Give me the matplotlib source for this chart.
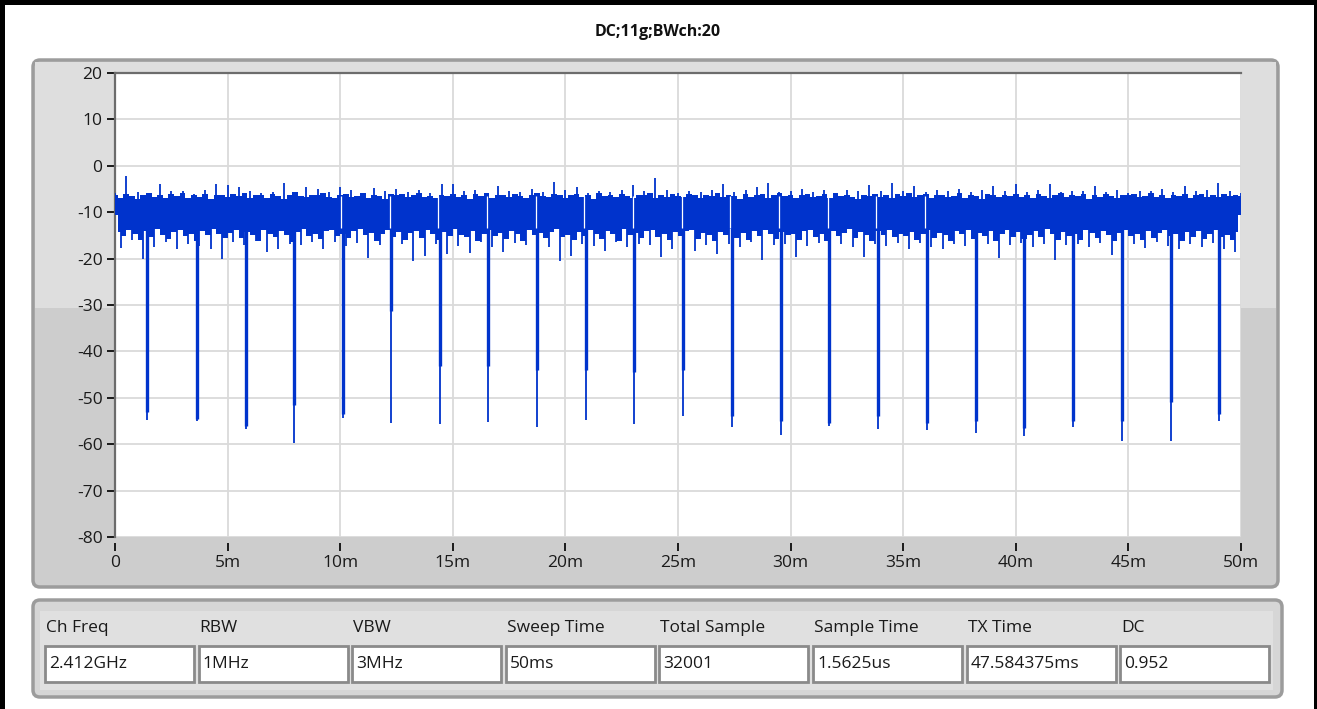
import numpy as np
import matplotlib.pyplot as plt
from matplotlib.patches import FancyBboxPatch, Rectangle

plt.rcParams['font.family'] = ['Open Sans', 'DejaVu Sans']
plt.rcParams['axes.unicode_minus'] = False

# ---- data ----
title = 'DC;11g;BWch:20'

# ragged edges of the noise band (dB), every 0.25 ms
edge_hi_ms = np.arange(0, 50.01, 0.25)
edge_hi = [-6.2, -6.9, -6.0, -6.6, -7.1, -6.3, -5.9, -6.8, -6.4, -7.0, -6.1, -6.5, -5.8, -6.9, -6.3, -6.7, -6.0, -7.2, -6.4, -6.2,
           -6.8, -6.1, -6.6, -5.9, -7.0, -6.4, -6.2, -6.9, -6.0, -6.5, -7.1, -6.3, -5.7, -6.6, -6.8, -6.2, -6.4, -5.9, -6.7, -7.0,
           -6.3, -6.0, -6.8, -6.5, -5.8, -6.9, -6.2, -6.6, -7.2, -6.1, -6.4, -6.0, -6.8, -6.3, -5.9, -6.7, -6.5, -7.0, -6.2, -6.6,
           -6.0, -6.7, -6.3, -7.1, -6.1, -6.5, -5.8, -6.9, -6.4, -6.2, -6.8, -6.0, -6.6, -7.0, -6.3, -5.9, -6.5, -6.8, -6.1, -6.4,
           -6.9, -6.2, -6.0, -6.7, -6.4, -7.1, -5.9, -6.5, -6.3, -6.8, -6.1, -6.6, -7.0, -6.2, -6.4, -5.8, -6.9, -6.3, -6.7, -6.0,
           -6.5, -6.8, -6.1, -6.4, -7.0, -6.2, -6.6, -5.9, -6.8, -6.3, -6.5, -7.2, -6.0, -6.7, -6.4, -6.1, -6.9, -6.3, -5.8, -6.6,
           -6.2, -7.0, -6.4, -6.0, -6.7, -6.5, -6.1, -6.9, -5.9, -6.6, -6.3, -6.8, -7.1, -6.2, -6.5, -6.0, -6.7, -6.4, -6.9, -6.1,
           -6.6, -5.9, -6.8, -6.3, -6.1, -7.0, -6.4, -6.2, -6.7, -6.5, -5.8, -6.9, -6.3, -6.6, -7.1, -6.0, -6.4, -6.8, -6.2, -6.5,
           -6.0, -6.7, -6.3, -6.9, -6.1, -6.5, -7.0, -6.2, -5.9, -6.8, -6.4, -6.6, -6.1, -7.2, -6.3, -6.7, -6.0, -6.5, -6.9, -6.2,
           -6.4, -6.1, -6.8, -6.5, -5.9, -6.7, -6.3, -7.0, -6.2, -6.6, -6.0, -6.9, -6.4, -6.1, -6.7, -6.3, -6.8, -6.0, -6.5, -6.2,
           -6.6]
edge_lo_ms = np.arange(0.125, 50, 0.25)
edge_lo = [-14.2, -15.1, -13.8, -14.6, -16.0, -14.0, -15.4, -13.6, -14.9, -15.7, -14.3, -13.9, -15.2, -14.7, -16.3, -14.1, -15.0, -13.7, -14.8, -15.5,
           -14.4, -13.8, -15.6, -14.2, -15.0, -16.1, -13.9, -14.7, -15.3, -14.0, -14.9, -16.4, -14.3, -13.7, -15.1, -14.6, -15.8, -14.1, -13.9, -15.2,
           -14.8, -15.5, -14.0, -13.6, -15.0, -14.4, -16.2, -14.7, -13.8, -15.3, -14.2, -15.9, -14.5, -14.0, -15.6, -13.9, -14.8, -16.0, -14.3, -15.1,
           -13.7, -14.9, -15.4, -14.1, -16.3, -14.6, -13.9, -15.2, -14.4, -15.7, -14.0, -14.8, -16.1, -13.8, -15.0, -14.5, -15.5, -14.2, -13.6, -15.3,
           -14.9, -16.0, -14.3, -15.1, -13.9, -14.7, -15.8, -14.0, -14.6, -16.2, -13.7, -15.0, -14.4, -15.6, -14.1, -13.9, -15.4, -14.8, -16.0, -14.2,
           -15.2, -14.0, -13.8, -15.7, -14.5, -15.0, -16.3, -14.2, -14.9, -13.7, -15.5, -14.4, -16.0, -14.1, -15.1, -13.9, -14.7, -15.8, -14.3, -15.0,
           -14.6, -15.9, -14.1, -13.8, -15.3, -14.8, -16.1, -14.0, -15.2, -14.5, -13.7, -15.6, -14.3, -14.9, -16.2, -14.0, -15.0, -13.9, -15.4, -14.6,
           -15.1, -14.2, -16.0, -14.7, -13.9, -15.5, -14.4, -15.0, -16.3, -14.1, -14.8, -13.8, -15.7, -14.5, -15.2, -14.0, -16.1, -14.6, -13.9, -15.3,
           -14.3, -15.8, -14.9, -14.0, -15.4, -13.7, -14.6, -16.0, -14.2, -15.1, -14.8, -15.9, -13.9, -14.5, -15.6, -14.1, -15.0, -16.2, -14.4, -13.8,
           -15.2, -14.7, -16.0, -14.1, -15.5, -14.4, -13.9, -15.1, -14.8, -16.1, -14.2, -15.3, -14.0, -15.7, -14.6, -13.8, -15.4, -14.9, -15.9, -14.3]

# taller spikes sticking out of the band
top_ms = np.arange(0, 50.01, 0.5)
top_db = [-5.8, -2.3, -5.6, -6.0, -3.9, -5.5, -5.4, -6.0, -5.2, -4.0, -4.1, -4.5, -5.4,
          -5.8, -5.6, -3.6, -5.9, -4.6, -5.0, -5.7, -4.6, -5.2, -5.8, -4.8, -5.5, -5.0,
          -5.6, -5.2, -5.8, -4.0, -3.9, -5.5, -5.3, -5.8, -4.4, -5.4, -5.6, -5.0, -5.7,
          -3.5, -5.3, -4.6, -5.8, -5.4, -5.6, -5.2, -4.1, -5.5, -2.6, -5.3, -5.9, -5.4,
          -5.6, -5.2, -4.0, -5.6, -5.3, -4.5, -3.7, -5.7, -5.4, -5.0, -5.6, -5.3, -5.8,
          -5.2, -5.5, -4.1, -5.4, -3.6, -5.5, -4.4, -5.6, -5.2, -5.5, -5.0, -5.7, -5.3,
          -4.3, -5.5, -4.0, -5.6, -5.3, -4.0, -5.7, -5.4, -5.5, -4.3, -5.6, -5.2, -5.8,
          -5.4, -5.5, -5.0, -5.6, -4.3, -5.5, -5.3, -3.6, -5.4, -5.8]
bot_ms = np.arange(0.25, 50, 0.5)
bot_db = [-17.7, -16.0, -20.0, -17.5, -16.5, -18.0, -16.8, -17.2, -18.0, -20.0, -16.5, -17.0, -16.2,
          -18.5, -18.0, -16.8, -17.0, -16.5, -18.0, -16.4, -17.3, -16.6, -19.8, -17.0, -20.0, -16.8,
          -20.5, -19.5, -16.8, -19.0, -17.2, -18.8, -16.5, -17.5, -18.5, -16.6, -17.0, -16.8, -17.6,
          -20.5, -19.5, -16.9, -17.2, -18.3, -16.5, -17.4, -16.8, -17.0, -19.6, -18.0, -16.6, -18.3,
          -17.0, -19.0, -16.8, -17.4, -16.5, -20.3, -17.0, -16.8, -19.6, -17.2, -16.6, -17.8, -16.9,
          -17.5, -19.6, -16.8, -17.3, -16.6, -17.9, -16.7, -17.4, -18.0, -16.8, -17.2, -18.6, -16.9,
          -19.8, -17.0, -16.7, -17.6, -16.9, -20.3, -17.1, -16.8, -17.5, -16.6, -19.3, -17.2, -16.9,
          -17.7, -16.5, -17.3, -18.0, -16.8, -17.4, -16.7, -17.9, -18.5]

# the periodic gaps (off time) in the transmission
dip_ms = [1.42, 3.63, 5.80, 7.95, 10.11, 12.26, 14.43, 16.58, 18.75, 20.91, 23.05, 25.24,
          27.38, 29.56, 31.72, 33.87, 36.04, 38.23, 40.38, 42.53, 44.73, 46.89, 49.04]
dip_min = [-54.7, -55.1, -56.7, -59.8, -54.4, -55.4, -55.6, -55.2, -56.2, -54.7, -55.6, -54.0,
           -56.2, -58.0, -56.0, -56.7, -56.9, -57.6, -58.3, -56.3, -59.4, -59.4, -55.1]
dip_shoulder = [-53.0, -54.5, -56.0, -51.5, -53.5, -31.3, -43.2, -43.2, -44.0, -44.0, -44.5, -44.0,
                -54.0, -55.0, -55.5, -54.0, -55.5, -55.0, -56.5, -55.0, -55.0, -51.0, -53.5]
dip_gap = [False, False, False, False, True, True, True, True, True, True, True, True,
           True, True, True, True, True, False, False, False, False, False, False]

x_ticks = list(range(0, 51, 5))
x_labels = ['0'] + ['%dm' % v for v in x_ticks[1:]]
y_ticks = list(range(-80, 21, 10))

fields = ['Ch Freq', 'RBW', 'VBW', 'Sweep Time', 'Total Sample', 'Sample Time', 'TX Time', 'DC']
values = ['2.412GHz', '1MHz', '3MHz', '50ms', '32001', '1.5625us', '47.584375ms', '0.952']

# ---- figure ----
W, H = 1317, 709
fig = plt.figure(figsize=(W / 100, H / 100), dpi=100)
fig.patch.set_facecolor('white')

bg = fig.add_axes([0, 0, 1, 1], zorder=0)
bg.set_xlim(0, W)
bg.set_ylim(H, 0)
bg.axis('off')


def box(x0, y0, x1, y1, **kw):
    bg.add_patch(Rectangle((x0, y0), x1 - x0, y1 - y0, **kw))


# window border
box(0, 0, W, 5, fc='black', lw=0)
box(0, 0, 5, H, fc='black', lw=0)
box(1314, 0, W, H, fc='black', lw=0)

bg.text(658, 32, title, ha='center', va='center', fontsize=11.5, fontweight='bold', color='#111111')

# graph frame
bg.add_patch(FancyBboxPatch((33, 60), 1245, 527, boxstyle='round,pad=0,rounding_size=7',
                            fc='#cdcdcd', ec='#9c9c9c', lw=2.5))
box(35, 62, 1276, 308, fc='#dedede', lw=0)

# info panel
bg.add_patch(FancyBboxPatch((33, 600), 1249, 97, boxstyle='round,pad=0,rounding_size=7',
                            fc='#d6d6d6', ec='#9c9c9c', lw=2.5))
box(40, 611, 1273, 690, fc='#e0e0e0', lw=0)
for i, (f, v) in enumerate(zip(fields, values)):
    x0 = 45 + i * 153.6
    bg.text(x0 + 1, 628, f, ha='left', va='center', fontsize=12.5, color='#1a1a1a')
    box(x0, 646, x0 + 149, 682, fc='white', ec='#8a8a8a', lw=2)
    bg.text(x0 + 4, 664, v, ha='left', va='center', fontsize=12.5, color='#1a1a1a')

# plot area
ax = fig.add_axes([115 / W, (H - 537) / H, 1126 / W, 464 / H], zorder=2)
ax.set_facecolor('white')
ax.set_xlim(0, 50)
ax.set_ylim(-80, 20)

blue = '#0033cc'
ax.fill_between(edge_hi_ms, -10.5, edge_hi, step='mid', color=blue, lw=0, zorder=3)
ax.fill_between(edge_lo_ms, -10.5, edge_lo, step='mid', color=blue, lw=0, zorder=3)
ax.vlines(top_ms, -10, top_db, color=blue, lw=1.3, zorder=3)
ax.vlines(bot_ms, -10, bot_db, color=blue, lw=1.3, zorder=3)
ax.vlines(dip_ms, -12, dip_shoulder, color=blue, lw=2.4, zorder=4)
ax.vlines(dip_ms, -12, dip_min, color=blue, lw=1.3, zorder=4)
gx = [d - 0.07 for d, g in zip(dip_ms, dip_gap) if g]
ax.vlines(gx, -13.5, -6.5, color='white', lw=0.9, zorder=5)

ax.set_xticks(x_ticks)
ax.set_xticklabels(x_labels)
ax.set_yticks(y_ticks)
ax.grid(True, color='#dadada', lw=1.3)
ax.set_axisbelow(True)

for s in ['right', 'bottom']:
    ax.spines[s].set_visible(False)
for s in ['top', 'left']:
    ax.spines[s].set_color('#6c6c6c')
    ax.spines[s].set_linewidth(1.6)
ax.spines['bottom'].set_position(('outward', 4))

ax.tick_params(axis='both', colors='#1a1a1a', labelsize=12.5, length=6, width=1.4, direction='out')
ax.tick_params(axis='x', pad=3)
ax.tick_params(axis='y', pad=3)

fig.savefig('out.png', dpi=100)
